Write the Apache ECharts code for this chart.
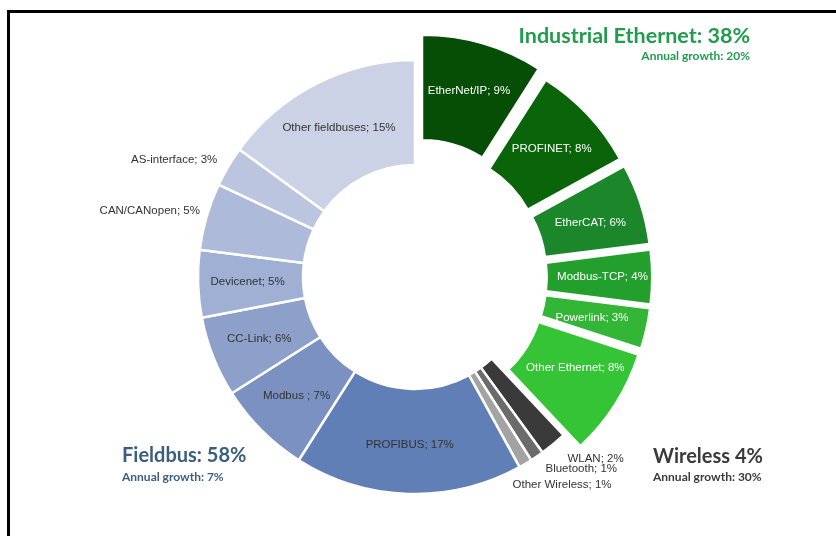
<!DOCTYPE html>
<html>
<head>
<meta charset="utf-8">
<script src="https://cdn.jsdelivr.net/npm/echarts@6/dist/echarts.min.js"></script>
<style>
html,body{margin:0;padding:0;background:#fff;}
#frame{position:absolute;left:7px;top:10px;width:829px;height:526px;border-left:3px solid #000;border-top:3px solid #000;box-sizing:border-box;}
#chart{position:absolute;left:0;top:0;width:836px;height:536px;}
</style>
</head>
<body>
<div id="chart"></div>
<div id="frame"></div>
<script>
// ---- data ----
const ethernetNames  = ['EtherNet/IP', 'PROFINET', 'EtherCAT', 'Modbus-TCP', 'Powerlink', 'Other Ethernet'];
const ethernetValues = [9, 8, 6, 4, 3, 8];
const wirelessNames  = ['WLAN', 'Bluetooth', 'Other Wireless'];
const wirelessValues = [2, 1, 1];
const fieldbusNames  = ['PROFIBUS', 'Modbus ', 'CC-Link', 'Devicenet', 'CAN/CANopen', 'AS-interface', 'Other fieldbuses'];
const fieldbusValues = [17, 7, 6, 5, 5, 3, 15];
const groupTitles = ['Industrial Ethernet: 38%', 'Fieldbus: 58%', 'Wireless 4%'];
const groupGrowth = ['Annual growth: 20%', 'Annual growth: 7%', 'Annual growth: 30%'];

// ---- styles ----
const ethernetColors = ['#064d06', '#0a640a', '#1b862a', '#239f2d', '#33b536', '#35c435'];
const wirelessColors = ['#3a3a3a', '#6b6b6b', '#a3a3a3'];
const fieldbusColors = ['#607fb6', '#7a91c2', '#8da0ca', '#a0b0d4', '#adbada', '#bbc5df', '#cbd2e6'];
const outsideLabels = {
  'WLAN': {dx: 0, dy: 8}, 'Bluetooth': {dx: -5, dy: 6}, 'Other Wireless': {dx: -26, dy: 14},
  'AS-interface': {dx: 5, dy: -3}, 'CAN/CANopen': {dx: 10, dy: -3}
};
const insideNudges = {
  'Other Ethernet': {dx: 2, dy: -10}, 'Powerlink': {dx: -6, dy: 0}, 'EtherCAT': {dx: -3, dy: 4}
};

const all = [];
ethernetNames.forEach((n, i) => all.push({name: n, value: ethernetValues[i], group: 'eth', color: ethernetColors[i]}));
wirelessNames.forEach((n, i) => all.push({name: n, value: wirelessValues[i], group: 'wl', color: wirelessColors[i]}));
fieldbusNames.forEach((n, i) => all.push({name: n, value: fieldbusValues[i], group: 'fb', color: fieldbusColors[i]}));

const hidden = {color: 'rgba(0,0,0,0)', borderWidth: 0};
function buildData(visibleFn, selected) {
  return all.map(d => {
    if (!visibleFn(d)) {
      return {name: d.name, value: d.value, itemStyle: hidden, label: {show: false}, labelLine: {show: false}};
    }
    const isOut = outsideLabels[d.name] !== undefined;
    return {
      name: d.name, value: d.value, selected: selected,
      itemStyle: {color: d.color, borderColor: '#fff', borderWidth: d.group === 'eth' ? 2 : 2.5},
      label: {
        show: true,
        position: isOut ? 'outside' : 'inside',
        color: d.group === 'eth' ? '#ffffff' : '#333333'
      },
      labelLine: {show: false, length: 8, length2: 4}
    };
  });
}

const common = {
  type: 'pie', center: [415, 277], radius: [112, 217], startAngle: 90, clockwise: true,
  avoidLabelOverlap: false, silent: true, animation: false,
  selectedMode: 'multiple',
  emphasis: {disabled: true},
  label: {fontFamily: 'Liberation Sans, Arial, sans-serif', fontSize: 11.5, formatter: p => p.name + '; ' + p.value + '%'},
  labelLayout: p => {
    const nm = all[p.dataIndex].name;
    const o = outsideLabels[nm] || insideNudges[nm];
    return o ? {dx: o.dx, dy: o.dy} : {};
  }
};

const option = {
  backgroundColor: '#fff',
  series: [
    Object.assign({}, common, {data: buildData(d => d.group !== 'eth', false), selectedOffset: 0}),
    Object.assign({}, common, {data: buildData(d => d.group === 'eth' && d.name !== 'EtherNet/IP', true), selectedOffset: 20}),
    Object.assign({}, common, {data: buildData(d => d.name === 'EtherNet/IP', true), selectedOffset: 26})
  ],
  graphic: [
    {type: 'text', style: {text: groupTitles[0], x: 750, y: 36, align: 'right', verticalAlign: 'middle', fill: '#1f9d4c', font: 'bold 21.5px Lato, sans-serif'}},
    {type: 'text', style: {text: groupGrowth[0], x: 750, y: 56, align: 'right', verticalAlign: 'middle', fill: '#1f9d4c', font: 'bold 12px Lato, sans-serif'}},
    {type: 'text', style: {text: groupTitles[1], x: 122, y: 456, align: 'left', verticalAlign: 'middle', fill: '#3b5e7e', font: 'bold 20px Lato, sans-serif'}},
    {type: 'text', style: {text: groupGrowth[1], x: 122, y: 477, align: 'left', verticalAlign: 'middle', fill: '#3b5e7e', font: 'bold 12px Lato, sans-serif'}},
    {type: 'text', style: {text: groupTitles[2], x: 653, y: 457, align: 'left', verticalAlign: 'middle', fill: '#3a3a3a', font: 'bold 20px Lato, sans-serif'}},
    {type: 'text', style: {text: groupGrowth[2], x: 653, y: 477, align: 'left', verticalAlign: 'middle', fill: '#3a3a3a', font: 'bold 12px Lato, sans-serif'}}
  ]
};
const chart = echarts.init(document.getElementById('chart'), null, {renderer: 'canvas'});
chart.setOption(option);
</script>
</body>
</html>
